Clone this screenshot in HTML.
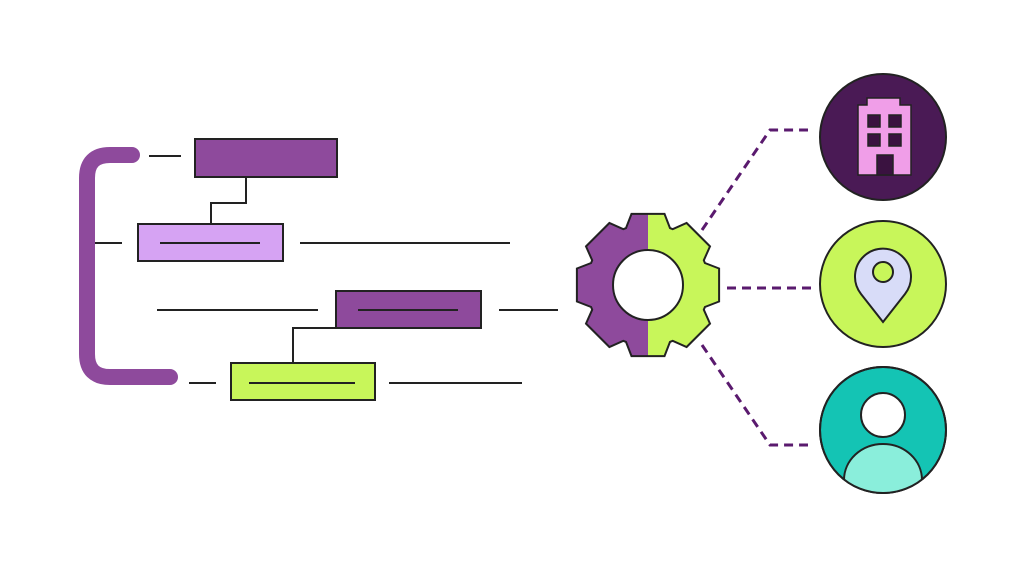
<!DOCTYPE html>
<html><head><meta charset="utf-8"><style>html,body{margin:0;padding:0;background:#fff}svg{display:block}</style></head>
<body>
<svg width="1024" height="576" viewBox="0 0 1024 576" xmlns="http://www.w3.org/2000/svg">
<defs>
<clipPath id="gl"><rect x="560" y="200" width="88" height="180"/></clipPath>
<clipPath id="gr"><rect x="648" y="200" width="90" height="180"/></clipPath>
<clipPath id="pc"><circle cx="883" cy="430" r="63"/></clipPath>
</defs>
<!-- bracket -->
<path d="M132 155 H110 Q87 155 87 178 V354 Q87 377 110 377 H170" fill="none" stroke="#8e4a9c" stroke-width="16" stroke-linecap="round"/>
<g stroke="#222" stroke-width="2" fill="none">
<line x1="149" y1="156" x2="181" y2="156"/>
<line x1="95" y1="243" x2="122" y2="243"/>
<line x1="300" y1="243" x2="510" y2="243"/>
<line x1="157" y1="310" x2="318" y2="310"/>
<line x1="499" y1="310" x2="558" y2="310"/>
<line x1="189" y1="383" x2="216" y2="383"/>
<line x1="389" y1="383" x2="522" y2="383"/>
<polyline points="246,177 246,203 211,203 211,224"/>
<polyline points="336,328 293,328 293,363"/>
</g>
<g stroke="#222" stroke-width="2">
<rect x="195" y="139" width="142" height="38" fill="#8e4a9c"/>
<rect x="138" y="224" width="145" height="37" fill="#d6a3f3"/>
<rect x="336" y="291" width="145" height="37" fill="#8e4a9c"/>
<rect x="231" y="363" width="144" height="37" fill="#c8f65a"/>
<line x1="160" y1="243" x2="260" y2="243"/>
<line x1="358" y1="310" x2="458" y2="310"/>
<line x1="249" y1="383" x2="355" y2="383"/>
</g>
<!-- dashed -->
<g stroke="#5a1a6e" stroke-width="3" fill="none" stroke-dasharray="9 6">
<polyline points="702,230 770,130 808,130"/>
<line x1="727" y1="288" x2="812" y2="288"/>
<polyline points="702,345 770,445 808,445"/>
</g>
<!-- gear -->
<g id="gear">
<path id="gp" d="" fill="#8e4a9c" clip-path="url(#gl)"/>
<path id="gp2" d="" fill="#c8f65a" clip-path="url(#gr)"/>
<path id="gp3" d="" fill="none" stroke="#222" stroke-width="2"/>
<circle cx="648" cy="285" r="35" fill="#fff" stroke="#222" stroke-width="2"/>
</g>
<!-- circles -->
<circle cx="883" cy="137" r="63" fill="#4a1a55" stroke="#222" stroke-width="2"/>
<g stroke="#222" stroke-width="1.5">
<path d="M867 98 H900 V105 H911 V175 H858 V105 H867 Z" fill="#f09ee8"/>
<rect x="868" y="115" width="12" height="12" fill="#3a1240"/>
<rect x="889" y="115" width="12" height="12" fill="#3a1240"/>
<rect x="868" y="134" width="12" height="12" fill="#3a1240"/>
<rect x="889" y="134" width="12" height="12" fill="#3a1240"/>
<rect x="877" y="155" width="16" height="20" fill="#3a1240"/>
</g>
<circle cx="883" cy="284" r="63" fill="#c8f65a" stroke="#222" stroke-width="2"/>
<path d="M883 322 L861 294 A28 28 0 1 1 905 294 Z" fill="#d8dcf8" stroke="#222" stroke-width="2"/>
<circle cx="883" cy="272" r="10" fill="#c8f65a" stroke="#222" stroke-width="2"/>
<circle cx="883" cy="430" r="63" fill="#14c4b4" stroke="#222" stroke-width="2"/>
<g clip-path="url(#pc)">
<path d="M844 500 V480 A39 36 0 0 1 922 480 V500 Z" fill="#8aeedb" stroke="#222" stroke-width="2"/>
</g>
<circle cx="883" cy="430" r="63" fill="none" stroke="#222" stroke-width="2"/>
<circle cx="883" cy="415" r="22" fill="#fff" stroke="#222" stroke-width="2"/>
</svg>
<script>
(function(){
var cx=648,cy=285,R=73,r=61,n=8,pts=[];
var tw=16.5/R, bw=22/r; // half-angle widths
for(var i=0;i<n;i++){
 var a=-Math.PI/2+i*2*Math.PI/n;
 var ta=Math.asin(16.5/R), ba=Math.asin(22/r);
 pts.push([cx+r*Math.cos(a-ba),cy+r*Math.sin(a-ba)]);
 pts.push([cx+R*Math.cos(a-ta),cy+R*Math.sin(a-ta)]);
 pts.push([cx+R*Math.cos(a+ta),cy+R*Math.sin(a+ta)]);
 pts.push([cx+r*Math.cos(a+ba),cy+r*Math.sin(a+ba)]);
}
var d='M'+pts.map(function(p){return p[0].toFixed(1)+' '+p[1].toFixed(1)}).join(' L')+' Z';
['gp','gp2','gp3'].forEach(function(id){document.getElementById(id).setAttribute('d',d)});
})();
</script>
</body></html>
